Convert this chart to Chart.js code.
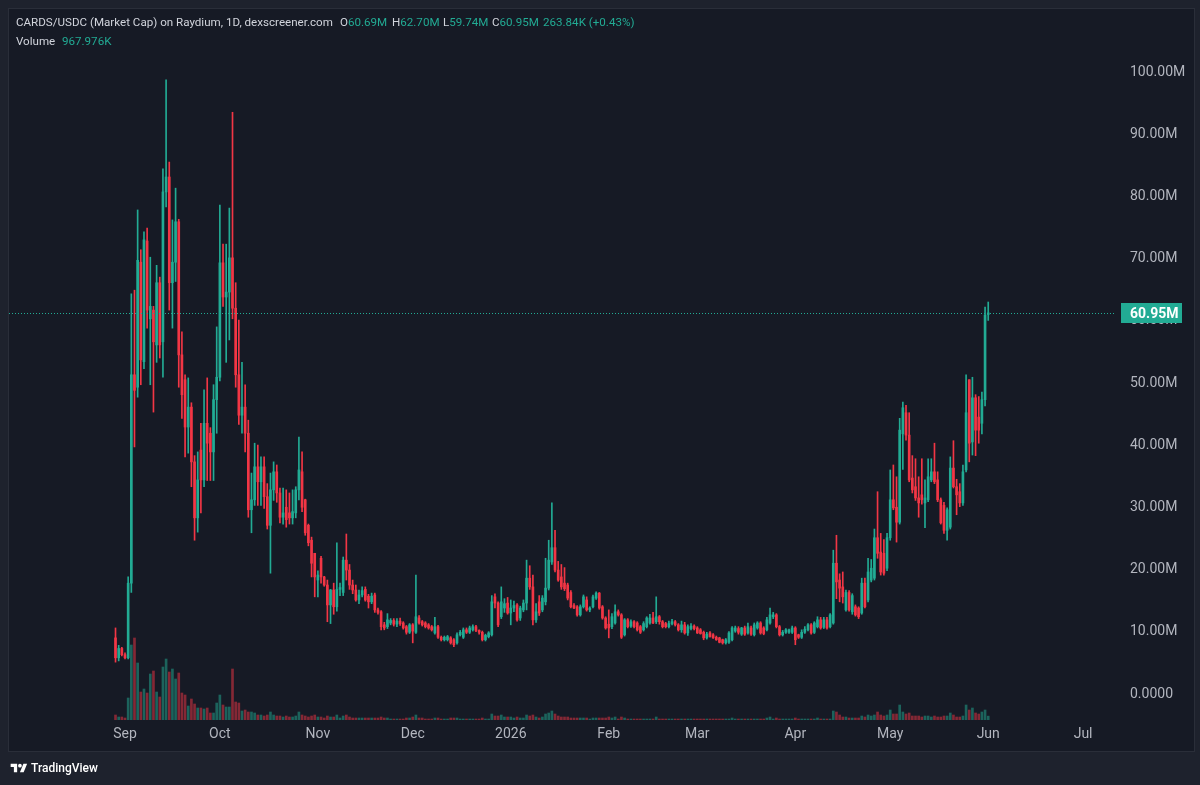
<!DOCTYPE html>
<html>
<head>
<meta charset="utf-8">
<script src="https://cdn.jsdelivr.net/npm/chart.js@4/dist/chart.umd.min.js"></script>
<style>
html,body{margin:0;padding:0;background:#1e222d;width:1200px;height:785px;overflow:hidden;font-family:Roboto,"Liberation Sans",sans-serif;}
#pane{position:absolute;left:8px;top:8px;width:1187px;height:744px;background:#161a25;border:1px solid #2a2e39;box-sizing:border-box;}
#wrap{position:absolute;left:0;top:0;width:1200px;height:785px;}
.t{position:absolute;font-size:11.6px;line-height:14px;white-space:nowrap;color:#d1d4dc;}
.v{color:#22ab94;}
#logo{position:absolute;left:10px;top:762px;}
#logotext{position:absolute;left:31px;top:761px;font-size:12px;line-height:14px;font-weight:500;color:#ffffff;}
</style>
</head>
<body>
<div id="pane"></div>
<div id="wrap"><canvas id="c" width="1200" height="785"></canvas></div>
<div class="t" style="left:16px;top:15px">CARDS/USDC (Market Cap) on Raydium, 1D, dexscreener.com</div>
<div class="t" style="left:340px;top:15px">O<span class="v">60.69M</span></div>
<div class="t" style="left:392px;top:15px">H<span class="v">62.70M</span></div>
<div class="t" style="left:443px;top:15px">L<span class="v">59.74M</span></div>
<div class="t" style="left:492px;top:15px">C<span class="v">60.95M</span></div>
<div class="t v" style="left:543px;top:15px">263.84K (+0.43%)</div>
<div class="t" style="left:16px;top:34px">Volume</div>
<div class="t v" style="left:62px;top:34px">967.976K</div>
<svg id="logo" width="18" height="13" viewBox="0 0 36 28"><path d="M14 22H7V11H0V4h14v18z" fill="#fff"/><circle cx="20" cy="8" r="4" fill="#fff"/><path d="M28 22h-8l7.5-18h8L28 22z" fill="#fff"/></svg>
<div id="logotext">TradingView</div>
<script>
// ---------- DATA (values in millions, volume in thousands) ----------
const firstCandleDate = '2025-08-29';
const opens = [
8.7,5.5,7.0,
6.0,5.5,17.5,51.0,49.0,69.1,53.1,72.5,60.0,61.4,
55.8,65.8,56.3,80.4,82.8,65.8,69.1,75.6,54.2,50.2,
42.6,45.8,37.0,28.0,38.9,34.1,43.2,41.6,38.6,47.0,
50.6,69.0,63.5,64.3,69.8,61.7,51.0,44.5,45.8,41.6,
29.3,30.9,36.2,33.8,36.2,31.4,26.8,32.5,35.4,32.0,
28.1,29.7,28.8,28.0,28.8,32.5,35.4,30.9,26.8,24.4,
22.3,
18.0,21.5,18.5,17.2,14.0,16.4,13.7,16.5,16.0,21.2,
19.6,17.2,16.4,14.8,15.6,16.5,15.4,14.5,15.6,13.2,
12.9,10.8,10.5,11.1,11.5,10.9,11.4,11.1,10.5,9.6,
10.8,9.6,11.9,11.3,11.1,10.8,10.5,9.5,10.5,8.8,
8.4,8.4,8.7,8.4,7.9,9.2,8.8,10.0,9.6,10.0,
10.5,9.9,9.6,8.4,8.9,9.2,15.3,14.3,12.1,13.5,
14.3,
12.7,13.5,14.0,11.9,13.2,14.3,18.3,16.9,11.6,14.5,
13.2,14.5,16.7,20.9,23.2,19.6,18.5,17.5,17.2,16.0,
13.9,13.7,12.4,13.7,14.8,13.2,13.7,15.1,15.9,13.7,
11.9,
10.9,10.5,11.1,12.9,12.4,9.2,11.6,10.6,11.3,11.1,
10.5,10.0,10.5,11.1,11.9,11.3,12.1,11.3,11.0,10.5,
11.0,11.3,10.8,10.0,10.8,9.5,10.2,10.6,
10.3,10.0,9.6,8.7,9.5,9.2,8.8,8.7,8.4,7.9,
8.0,8.4,9.8,10.2,9.3,10.3,9.5,10.3,9.2,10.3,
11.1,10.3,10.0,11.1,12.1,12.4,10.5,9.2,9.6,9.6,
9.6,
10.3,9.2,8.8,9.6,10.0,10.8,9.6,10.5,11.6,10.4,
11.6,10.5,11.1,20.7,18.0,16.9,13.2,16.0,12.9,13.7,
13.5,12.7,17.5,14.8,18.0,18.3,24.8,22.5,22.3,19.9,
24.8,30.9,29.7,27.3,41.5,44.9,41.3,34.4,33.0,31.2,
31.7,30.4,30.9,34.1,35.4,34.1,30.9,30.0,26.0,26.5,
36.0,33.0,32.2,30.4,35.7,50.2,40.2,47.3,44.2,43.2,
47.0,
60.69
];
const highs = [
10.3,7.5,7.2,
6.3,18.5,64.0,64.6,77.5,71.1,74.0,74.6,69.9,62.0,
68.6,66.7,84.1,98.4,85.2,75.9,81.0,76.0,57.9,51.0,
50.5,46.5,38.0,38.6,43.2,48.6,50.5,42.5,49.4,58.7,
78.3,72.0,72.0,77.8,93.2,65.8,59.8,53.0,49.4,43.7,
35.2,40.0,39.7,37.8,37.8,33.5,35.2,37.0,36.5,32.8,
32.8,32.5,32.0,32.5,33.0,41.0,38.6,31.0,27.0,24.9,
22.3,
19.5,21.8,18.6,18.0,16.5,17.5,24.0,17.5,21.7,25.4,
20.5,18.0,17.2,16.4,16.9,16.9,15.7,15.9,15.9,13.5,
13.1,11.2,12.6,11.8,11.8,11.8,11.9,11.3,10.7,11.0,
11.0,18.8,12.3,11.5,11.3,11.0,10.7,12.0,10.7,9.0,
9.0,9.1,8.9,8.6,9.5,9.9,10.3,10.3,10.6,10.8,
10.7,10.0,9.8,9.3,9.7,15.5,15.8,14.5,16.9,15.0,
15.2,
14.8,14.6,14.2,13.8,14.8,21.2,20.3,18.8,14.2,15.5,
15.5,21.5,24.4,30.4,26.0,21.0,20.5,20.0,17.5,16.3,
14.2,13.9,14.0,15.6,15.3,13.7,15.6,16.1,16.0,13.9,
12.1,
13.2,12.6,14.0,13.2,12.6,11.8,11.8,11.6,11.5,11.3,
10.7,11.3,12.1,12.5,12.8,15.3,12.3,11.5,11.2,11.4,
11.7,11.5,11.0,11.4,11.2,10.8,11.0,10.8,
10.5,10.2,9.8,9.6,9.7,9.4,9.0,8.8,8.5,8.6,
9.7,10.5,10.6,10.5,10.4,10.6,11.1,10.6,11.1,11.3,
11.3,10.5,12.0,13.5,12.8,12.6,10.7,9.9,10.2,10.1,
10.6,
10.5,9.3,10.0,10.5,11.0,11.0,11.3,12.1,12.0,12.0,
12.0,12.6,22.8,25.2,19.0,19.3,16.4,16.3,15.8,14.0,
13.7,18.3,18.3,21.5,21.3,26.2,32.2,25.5,24.5,25.5,
35.7,36.5,34.6,44.0,46.6,46.1,44.9,38.0,37.5,34.6,
37.5,34.1,37.5,37.5,40.0,35.4,31.2,30.5,29.6,37.8,
40.4,34.2,33.5,36.5,51.0,50.2,50.6,47.8,47.5,48.2,
61.9,
62.70
];
const lows = [
4.8,5.0,5.8,
5.3,5.3,16.0,39.4,47.4,49.4,52.0,58.5,49.4,45.0,
53.0,53.7,50.6,78.0,61.4,58.5,66.0,49.0,44.0,37.8,
38.4,33.0,24.4,25.7,28.8,33.0,34.0,34.0,34.0,41.6,
50.0,62.0,53.0,56.6,60.0,49.0,43.0,41.6,38.6,28.1,
25.6,30.0,30.0,30.0,29.5,26.2,19.1,30.8,30.5,27.2,
27.0,26.5,27.0,27.0,28.0,30.9,29.0,25.2,23.5,18.5,
15.3,
15.3,17.5,17.0,11.3,11.0,12.5,13.0,15.5,15.5,18.0,
16.5,15.8,14.6,14.2,15.3,14.6,13.5,14.2,12.8,12.5,
10.0,10.0,10.2,10.8,10.6,10.5,10.7,10.1,9.3,9.4,
7.9,9.4,10.9,10.6,10.3,10.1,9.8,9.3,8.6,8.2,
8.2,8.2,7.7,7.3,7.7,9.0,8.6,9.4,9.4,9.8,
9.7,9.3,8.2,8.2,8.7,9.0,13.5,10.5,11.8,12.8,
12.5,
10.8,12.9,11.4,11.5,12.9,13.2,16.5,10.8,11.2,12.3,
12.9,14.0,16.4,20.5,19.3,17.8,16.5,16.3,14.8,13.5,
13.4,12.2,12.2,13.5,13.0,12.9,13.5,14.9,13.3,11.7,
10.1,
8.7,10.2,10.9,12.2,8.6,9.0,10.3,10.4,10.3,9.8,
9.4,9.8,10.3,10.9,11.0,11.0,10.9,10.3,10.3,10.3,
10.8,10.6,9.8,9.6,9.3,9.1,10.0,10.0,
9.4,9.3,8.4,8.5,8.8,8.6,8.3,7.9,7.7,7.7,
7.8,8.2,9.6,9.3,9.1,9.1,9.3,9.1,9.0,10.1,
9.3,9.2,9.8,10.9,11.8,10.3,9.0,9.0,9.4,9.4,
9.4,
7.6,8.6,8.6,9.4,9.8,9.3,9.4,10.3,10.1,10.2,
10.1,10.3,10.9,15.0,14.5,14.3,13.0,13.0,12.5,12.2,
11.8,12.5,13.5,14.5,17.7,18.0,21.5,18.8,18.8,19.5,
24.4,29.3,24.1,27.0,35.8,40.5,33.8,32.0,30.8,28.1,
30.2,26.4,30.6,33.8,33.5,30.6,27.0,25.5,24.4,26.2,
32.8,28.5,29.8,30.0,35.4,37.0,38.1,38.0,40.0,41.5,
46.0,
59.74
];
const closes = [
5.5,7.0,6.0,
5.5,17.5,51.0,48.5,69.4,53.4,72.7,61.4,62.0,56.3,
65.8,55.8,80.4,82.8,65.8,69.1,75.6,54.2,47.8,42.6,
45.8,37.0,28.0,34.1,34.1,43.2,40.0,38.6,47.0,50.6,
69.0,63.5,64.3,69.8,61.7,51.0,44.5,45.8,41.6,29.3,
30.9,36.2,33.8,36.2,31.4,26.8,32.5,35.4,32.0,28.1,
28.8,27.7,28.0,29.0,32.5,35.7,29.7,25.6,24.0,20.7,
18.5,
18.8,18.5,17.2,14.0,16.4,13.7,16.5,16.8,21.2,19.6,
17.2,16.4,14.8,15.6,16.3,14.8,14.5,15.4,13.2,12.8,
10.5,10.3,11.6,11.5,10.9,11.4,11.0,10.3,9.6,10.8,
9.8,12.1,11.1,10.8,10.5,10.3,10.0,10.5,8.8,8.4,
8.8,8.9,7.9,7.6,9.2,9.6,10.0,9.6,10.3,10.5,
9.9,9.6,8.4,9.1,9.5,14.5,14.3,10.8,14.5,14.2,
12.7,
13.5,13.9,11.6,13.5,14.3,18.3,16.9,11.6,12.9,12.7,
15.1,16.7,21.2,23.2,19.6,18.0,16.9,16.6,15.1,13.7,
13.5,12.4,13.7,15.3,13.2,13.5,15.3,15.9,13.5,11.9,
10.3,
10.3,12.1,12.9,12.4,8.8,11.6,10.5,11.3,10.5,10.0,
9.6,11.0,11.9,11.9,11.1,12.1,11.3,10.5,10.5,11.0,
11.3,10.8,10.0,10.8,9.5,10.5,10.6,10.2,
9.5,9.4,8.7,9.3,8.9,8.7,8.4,8.0,7.9,8.4,
9.5,10.3,10.3,9.6,10.3,9.3,10.5,9.3,10.8,11.1,
9.5,9.4,11.6,12.4,12.4,10.5,9.2,9.6,10.0,10.0,
10.3,
8.4,8.8,9.6,10.1,10.8,9.5,11.1,11.6,10.3,11.6,
10.3,12.4,20.7,17.7,16.7,15.3,16.0,13.2,15.5,12.4,
12.1,17.5,13.7,19.3,19.9,24.8,22.3,19.3,19.1,24.8,
30.9,29.6,27.3,42.1,45.7,41.3,34.1,32.5,31.2,30.4,
30.9,31.2,34.6,35.4,33.8,30.9,27.2,26.0,29.3,36.0,
33.0,31.7,30.4,35.4,44.9,40.0,47.3,42.1,42.1,47.0,
60.6,
60.95
];
const volumes = [
1250,750,750,
500,5500,18750,20500,14250,7000,7750,6750,11500,12250,
7000,5750,13250,15250,12000,12750,10250,11750,6750,6250,
3500,5250,4000,3000,3000,2750,3000,1750,1750,4250,
6250,3750,3250,3250,12750,4500,4250,2250,2500,2000,
2000,1750,1250,1250,1000,1250,2000,1250,1000,1000,
750,1000,750,750,1000,2000,1250,1000,750,1000,
1250,
750,750,500,1000,750,750,1250,500,1000,1250,
750,500,500,500,500,500,500,500,500,500,
750,500,500,250,250,250,250,250,500,500,
750,1250,500,500,250,250,250,500,500,250,
250,250,500,500,500,250,250,250,250,250,
250,250,500,250,250,1500,1000,1000,1250,750,
750,
750,500,750,500,500,1250,1000,1250,750,500,
750,1500,1750,2250,1500,1000,750,750,750,500,
500,500,500,500,500,250,500,500,500,500,
500,
750,500,750,250,750,500,250,250,250,250,
250,250,250,250,250,750,250,250,250,250,
250,250,250,250,250,250,250,250,
250,250,250,250,250,250,250,250,250,250,
250,500,250,250,250,250,250,250,250,250,
250,250,500,750,250,500,250,250,250,250,
250,
500,250,250,250,250,250,250,500,250,250,
250,250,2250,2000,1250,750,750,500,500,500,
500,1000,750,1250,1000,1250,2000,1250,1000,1250,
2500,1500,1500,3750,2000,1500,1750,1000,1000,1000,
750,1000,1000,750,1000,750,750,1000,1000,1750,
1250,750,750,1000,3750,2500,3000,1750,1500,2000,
2500,
967.976
];
const xTickDates = ['2025-09-01','2025-10-01','2025-11-01','2025-12-01','2026-01-01','2026-02-01','2026-03-01','2026-04-01','2026-05-01','2026-06-01','2026-07-01'];
const xTickLabels = ['Sep','Oct','Nov','Dec','2026','Feb','Mar','Apr','May','Jun','Jul'];
const yTickValues = [0,10,20,30,40,50,60,70,80,90,100];

// ---------- helpers ----------
const DAY = 86400000;
const origin = Date.UTC(2025, 8, 1);
function dayIndex(s){ const p = s.split('-').map(Number); return (Date.UTC(p[0], p[1]-1, p[2]) - origin) / DAY; }
const firstIdx = dayIndex(firstCandleDate);
const xs = closes.map((_, i) => firstIdx + i);
const isUp = closes.map((c, i) => c >= opens[i]);
const xTickDays = xTickDates.map(dayIndex);

const UP = '#22ab94', DOWN = '#f23645';
const UPV = 'rgba(34,171,148,0.5)', DOWNV = 'rgba(242,54,69,0.5)';
const FONT = 'Roboto, "Liberation Sans", sans-serif';

// axis ranges (chart area: x 9..1115, y 9..720)
const PXDAY = 3.162, X0 = 125;             // Sep 1 at x=125
const xMin = (9 - X0) / PXDAY, xMax = (1115 - X0) / PXDAY;
const PXM = 6.22, Y0 = 692;               // 0 at y=692
const yMax = (Y0 - 9) / PXM, yMin = (Y0 - 720) / PXM;
const volMax = (720 - 9) * 250;

const lastClose = closes[closes.length - 1];

const priceLinePlugin = {
  id: 'priceLine',
  afterDatasetsDraw(chart) {
    const {ctx, chartArea} = chart;
    const y = Math.round(chart.scales.y.getPixelForValue(lastClose)) + 0.5;
    ctx.save();
    ctx.strokeStyle = UP; ctx.lineWidth = 1; ctx.setLineDash([1, 2]);
    ctx.beginPath(); ctx.moveTo(chartArea.left, y); ctx.lineTo(chartArea.right, y); ctx.stroke();
    ctx.restore();
  },
  afterDraw(chart) {
    const {ctx, chartArea} = chart;
    const y = Math.round(chart.scales.y.getPixelForValue(lastClose));
    ctx.save();
    ctx.fillStyle = UP;
    ctx.fillRect(chartArea.right + 6, y - 10, 61, 20);
    ctx.fillStyle = '#ffffff';
    ctx.font = 'bold 14px ' + FONT;
    ctx.textBaseline = 'middle'; ctx.textAlign = 'left';
    ctx.fillText(lastClose.toFixed(2) + 'M', chartArea.right + 15, y + 1);
    ctx.restore();
  }
};

new Chart(document.getElementById('c'), {
  type: 'bar',
  data: {
    datasets: [
      {
        label: 'Body',
        data: xs.map((x, i) => ({x: x, y: [opens[i], closes[i]]})),
        backgroundColor: isUp.map(u => u ? UP : DOWN),
        barThickness: 2, grouped: false, order: 1, yAxisID: 'y'
      },
      {
        label: 'Wick',
        data: xs.map((x, i) => ({x: x, y: [lows[i], highs[i]]})),
        backgroundColor: isUp.map(u => u ? UP : DOWN),
        barThickness: 1, grouped: false, order: 2, yAxisID: 'y'
      },
      {
        label: 'Volume',
        data: xs.map((x, i) => ({x: x, y: volumes[i]})),
        backgroundColor: isUp.map(u => u ? UPV : DOWNV),
        barThickness: 2, grouped: false, order: 3, yAxisID: 'yVol'
      }
    ]
  },
  options: {
    responsive: false, animation: false, events: [],
    layout: {padding: {left: 9, top: 9, right: 0, bottom: 0}},
    plugins: {legend: {display: false}, tooltip: {enabled: false}},
    scales: {
      x: {
        type: 'linear', min: xMin, max: xMax, offset: false,
        grid: {display: false, drawTicks: false}, border: {display: false},
        afterBuildTicks: s => { s.ticks = xTickDays.map(v => ({value: v})); },
        afterFit: s => { s.height = 65; s.paddingLeft = 0; s.paddingRight = 0; },
        ticks: {
          autoSkip: false, maxRotation: 0, padding: 6, color: '#b2b5be',
          font: {family: FONT, size: 14},
          callback: (v, i) => xTickLabels[i]
        }
      },
      y: {
        type: 'linear', position: 'right', min: yMin, max: yMax,
        grid: {display: false, drawTicks: false}, border: {display: false},
        afterBuildTicks: s => { s.ticks = yTickValues.map(v => ({value: v})); },
        afterFit: s => { s.width = 85; s.paddingTop = 0; s.paddingBottom = 0; },
        ticks: {
          padding: 15, labelOffset: 2, color: '#b2b5be', font: {family: FONT, size: 14},
          callback: v => v === 0 ? '0.0000' : v.toFixed(2) + 'M'
        }
      },
      yVol: {type: 'linear', display: false, min: 0, max: volMax}
    }
  },
  plugins: [priceLinePlugin]
});
</script>
</body>
</html>
